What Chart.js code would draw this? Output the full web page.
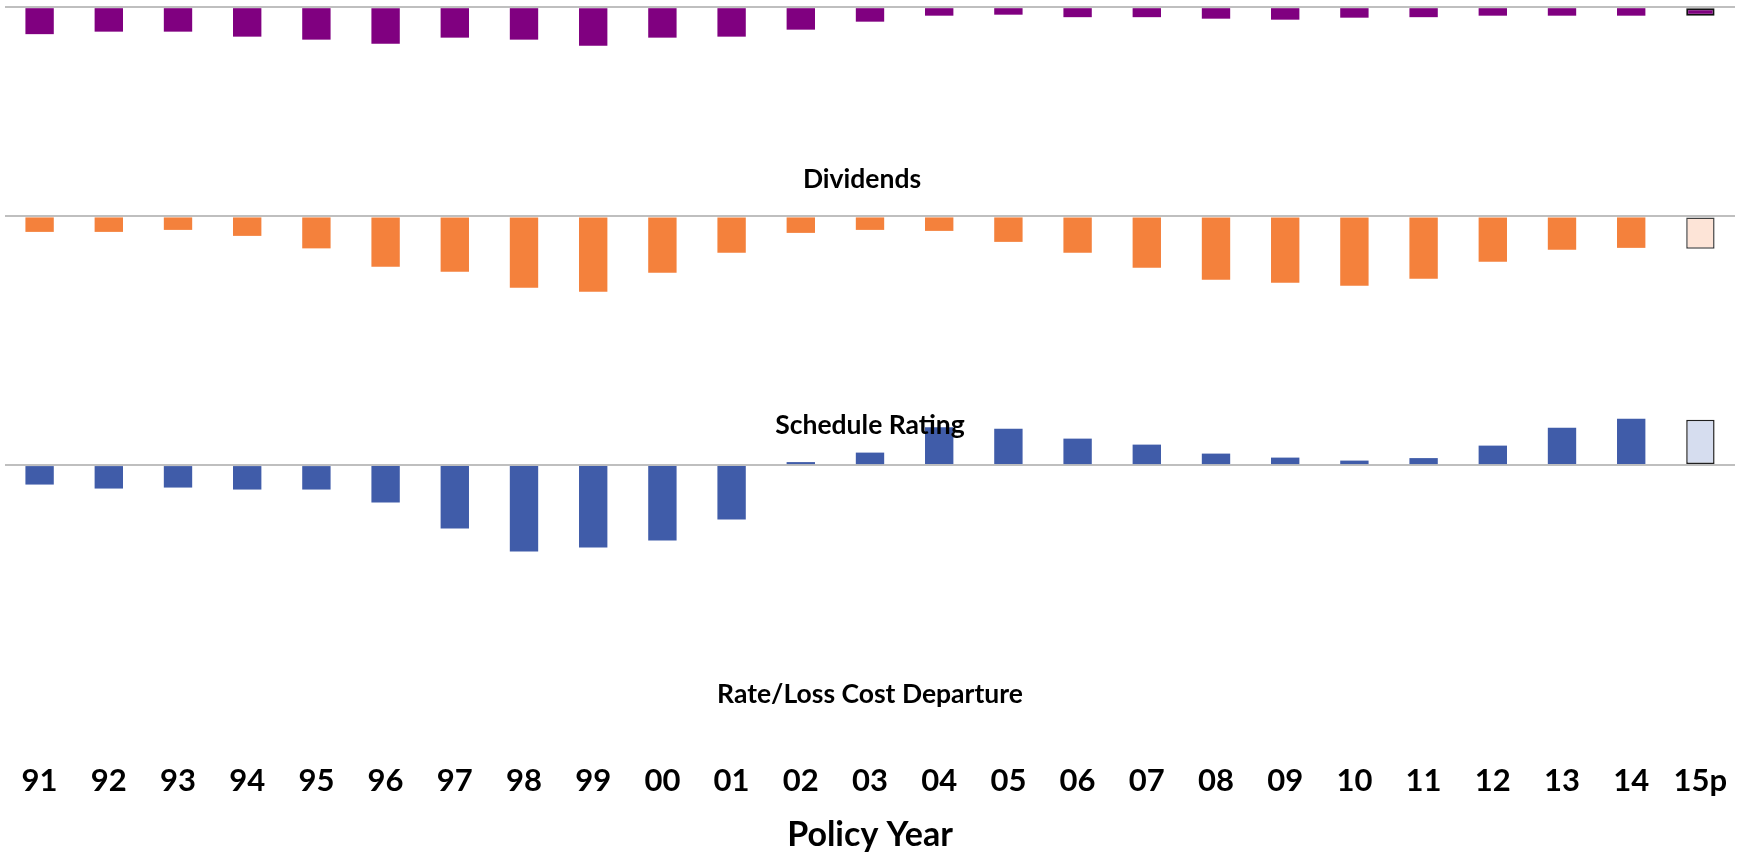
<!DOCTYPE html>
<html>
<head>
<meta charset="utf-8">
<script src="https://cdn.jsdelivr.net/npm/chart.js@4"></script>
<style>
  html, body { margin: 0; padding: 0; background: #fff; }
  #wrap { width: 1743px; height: 855px; }
</style>
</head>
<body>
<div id="wrap"><canvas id="premiumChart"></canvas></div>
<script>
const years = ["91","92","93","94","95","96","97","98","99","00","01","02","03","04","05","06","07","08","09","10","11","12","13","14","15p"];
const dividends = [-5.4,-4.9,-4.9,-5.9,-6.5,-7.3,-6.1,-6.5,-7.7,-6.1,-5.9,-4.5,-2.9,-1.7,-1.5,-2.0,-2.0,-2.3,-2.5,-2.1,-2.0,-1.7,-1.7,-1.7,-1.7];
const scheduleRating = [-3.1,-3.1,-2.7,-3.9,-6.4,-10.1,-11.1,-14.3,-15.1,-11.3,-7.3,-3.3,-2.7,-2.9,-5.1,-7.3,-10.3,-12.7,-13.3,-13.9,-12.5,-9.1,-6.7,-6.3,-6.5];
const rateDeparture = [-3.9,-4.7,-4.5,-4.9,-4.9,-7.5,-12.7,-17.3,-16.5,-15.1,-10.9,0.6,2.5,7.6,7.3,5.3,4.1,2.3,1.5,0.9,1.4,3.9,7.5,9.3,9.1];
const panelTitles = ["Dividends", "Schedule Rating", "Rate/Loss Cost Departure"];

const font = "Lato, 'Open Sans', sans-serif";
const last = years.length - 1;

function barStyle(color, lightColor, edgeColor, edgeWidth) {
  return {
    backgroundColor: c => c.dataIndex === last ? lightColor : color,
    borderColor: c => c.dataIndex === last ? edgeColor : color,
    borderWidth: c => c.dataIndex === last ? edgeWidth : 0,
    borderSkipped: false,
    grouped: false,
    clip: false,
    barPercentage: 0.41,
    categoryPercentage: 1
  };
}

function panelAxis(min, max) {
  return {
    type: "linear",
    position: "right",
    stack: "panels",
    stackWeight: max - min,
    min: min,
    max: max,
    z: 1,
    afterBuildTicks: s => { s.ticks = [{ value: 0 }]; },
    ticks: { display: false },
    border: { display: false },
    grid: { drawTicks: false, color: "rgba(128,128,128,0.5)", lineWidth: 2 }
  };
}

// each title sits under its own panel
const panelTitlePlugin = {
  id: "panelTitles",
  afterDatasetsDraw(chart) {
    const { ctx, chartArea } = chart;
    const ids = ["yDiv", "ySched", "yRate"];
    const lift = [16, 16, 65];
    const shift = [-8, 0, 0];
    ctx.save();
    ctx.fillStyle = "#000";
    ctx.font = "bold 26.5px " + font;
    ctx.textAlign = "center";
    ctx.textBaseline = "middle";
    ids.forEach((id, i) => {
      const sc = chart.scales[id];
      const x = (chartArea.left + chartArea.right) / 2 + shift[i];
      ctx.fillText(panelTitles[i], x, sc.bottom - lift[i]);
    });
    ctx.restore();
  }
};

const ctx = document.getElementById("premiumChart").getContext("2d");

new Chart(ctx, {
  type: "bar",
  data: {
    labels: years,
    datasets: [
      { label: panelTitles[0], data: dividends, yAxisID: "yDiv", ...barStyle("#800080", "#800080", "#111111", 2) },
      { label: panelTitles[1], data: scheduleRating, yAxisID: "ySched", ...barStyle("#F4813C", "#FDE4D7", "#404040", 1.5) },
      { label: panelTitles[2], data: rateDeparture, yAxisID: "yRate", ...barStyle("#405CA9", "#D6DDEF", "#202020", 1.5) }
    ]
  },
  plugins: [panelTitlePlugin],
  options: {
    responsive: true,
    maintainAspectRatio: false,
    animation: false,
    layout: { padding: { left: 5, right: 8, top: 0, bottom: 0 } },
    plugins: {
      legend: { display: false },
      tooltip: { enabled: false }
    },
    scales: {
      x: {
        type: "category",
        grid: { display: false, drawTicks: false },
        border: { display: false },
        ticks: {
          color: "#000",
          font: { family: font, size: 31, weight: "bold" },
          padding: 3,
          maxRotation: 0,
          autoSkip: false
        },
        title: {
          display: true,
          text: "Policy Year",
          color: "#000",
          font: { family: font, size: 34, weight: "bold" },
          padding: { top: 12, bottom: 0 }
        }
      },
      yDiv: panelAxis(-37.76, 1.44),
      ySched: panelAxis(-45.06, 4.14),
      yRate: panelAxis(-58.86, 4.74)
    }
  }
});
</script>
</body>
</html>
